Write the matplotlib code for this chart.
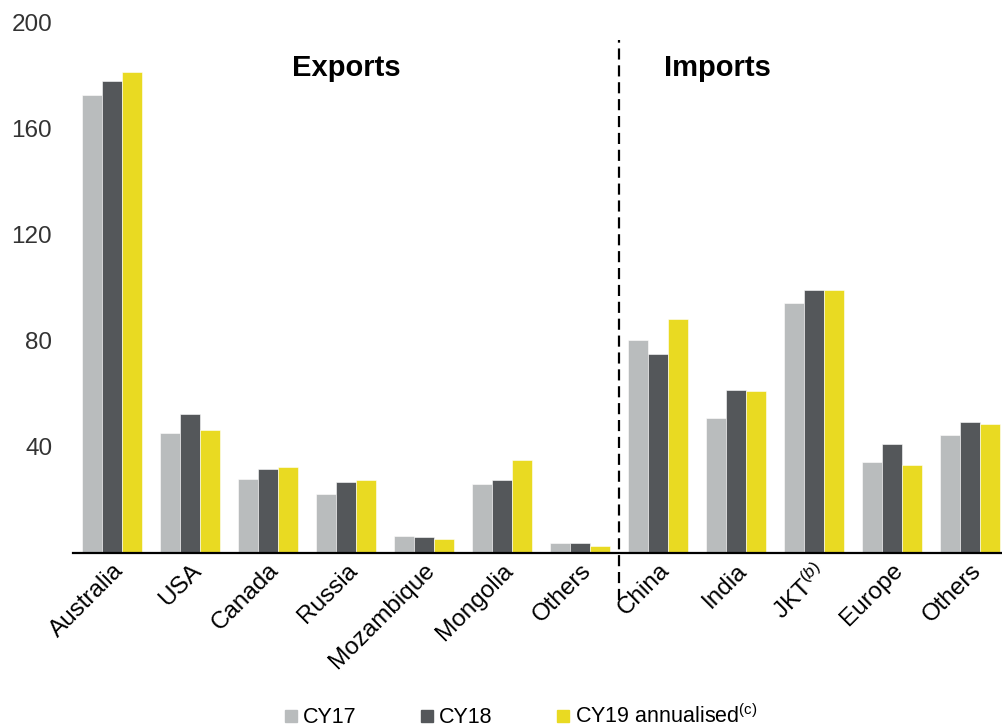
import numpy as np
import matplotlib
matplotlib.use('Agg')
import matplotlib.pyplot as plt
from matplotlib.lines import Line2D

plt.rcParams['font.family'] = ['Liberation Sans', 'DejaVu Sans']
plt.rcParams['mathtext.fontset'] = 'custom'
plt.rcParams['mathtext.rm'] = 'Liberation Sans'
plt.rcParams['mathtext.it'] = 'Liberation Sans:italic'

# Data
categories = ['Australia', 'USA', 'Canada', 'Russia', 'Mozambique', 'Mongolia', 'Others',
              'China', 'India', 'JKT$^{(b)}$', 'Europe', 'Others']
cy17 = [172.5, 45.3, 27.9, 22.1, 6.4, 26.0, 3.7, 80.3, 50.7, 94.3, 34.3, 44.5]
cy18 = [178.0, 52.2, 31.6, 26.8, 5.7, 27.3, 3.7, 75.0, 61.5, 99.2, 41.0, 49.4]
cy19 = [181.5, 46.4, 32.2, 27.4, 5.3, 35.0, 2.6, 88.3, 61.1, 99.2, 33.2, 48.7]
series_names = ['CY17', 'CY18', 'CY19 annualised$^{\\mathrm{(c)}}$']
y_ticks = [40, 80, 120, 160, 200]

GRAY = '#B9BCBD'
DARK = '#54575A'
YELLOW = '#E9DA22'
colors = [GRAY, DARK, YELLOW]

fig = plt.figure(figsize=(10.02, 7.28), dpi=100)
ax = fig.add_axes([0.0729, 0.241, 0.9271, 0.728])

x = np.arange(len(categories))
w = 0.256
for i, (vals, c) in enumerate(zip([cy17, cy18, cy19], colors)):
    ax.bar(x + (i - 1) * w, vals, width=w, color=c, edgecolor='white', linewidth=0.4)

ax.set_xlim(-0.5, 11.41)
ax.set_ylim(0, 200)
ax.set_yticks(y_ticks)
ax.set_yticklabels([str(t) for t in y_ticks], fontsize=17.5, color='#333333')
ax.set_xticks(x)
ax.set_xticklabels(categories, fontsize=17.5, rotation=45, ha='right',
                   rotation_mode='anchor', color='black')
ax.tick_params(axis='both', length=0)
ax.tick_params(axis='y', pad=15)
ax.tick_params(axis='x', pad=5)

for s in ['top', 'right', 'left']:
    ax.spines[s].set_visible(False)
ax.spines['bottom'].set_linewidth(1.6)
ax.spines['bottom'].set_color('black')

# divider between exports and imports
ax.axvline(6.5, ymin=-0.09, ymax=0.967, color='black', lw=1.6,
           linestyle=(0, (5, 2.6)), clip_on=False)

ax.text(3, 182.8, 'Exports', fontsize=21, fontweight='bold', ha='center', va='center')
ax.text(7.76, 182.8, 'Imports', fontsize=21, fontweight='bold', ha='center', va='center')

handles = [Line2D([], [], marker='s', linestyle='none', markersize=8,
                  markerfacecolor=c, markeredgecolor=c) for c in colors]
fig.legend(handles, series_names, loc='center', bbox_to_anchor=(0.52, 0.016),
           ncol=3, frameon=False, fontsize=15.5, handlelength=0.6,
           handletextpad=0.25, columnspacing=3.0, borderaxespad=0)

plt.savefig('out.png', dpi=100)
